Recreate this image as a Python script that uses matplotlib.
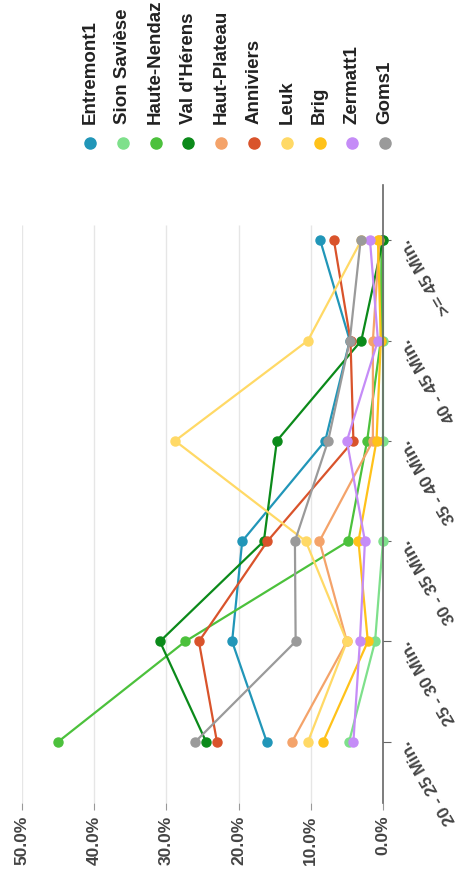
import numpy as np
import matplotlib
matplotlib.use('Agg')
import matplotlib.pyplot as plt
from matplotlib.lines import Line2D

plt.rcParams['font.family'] = ['Liberation Sans', 'DejaVu Sans']

# Datos (porcentaje por rango de tiempo)
categorias = ['20 - 25 Min.', '25 - 30 Min.', '30 - 35 Min.', '35 - 40 Min.', '40 - 45 Min.', '>= 45 Min.']
series = ['Entremont1', 'Sion Savièse', 'Haute-Nendaz', "Val d'Hérens", 'Haut-Plateau',
          'Anniviers', 'Leuk', 'Brig', 'Zermatt1', 'Goms1']

entremont1 = [16.1, 20.9, 19.5, 8.0, 4.6, 8.7]
sion_saviese = [4.7, 1.1, 0.0, 0.0, 0.0, 0.0]
haute_nendaz = [45.0, 27.4, 4.8, 2.2, 0.3, 0.2]
val_herens = [24.5, 30.9, 16.5, 14.7, 3.0, 0.0]
haut_plateau = [12.6, 5.0, 8.8, 1.4, 1.4, 0.5]
anniviers = [23.0, 25.5, 16.0, 4.1, 4.5, 6.8]
leuk = [10.4, 5.0, 10.7, 28.8, 10.4, 3.0]
brig = [8.3, 2.1, 3.4, 0.9, 0.3, 0.7]
zermatt1 = [4.1, 3.2, 2.5, 5.0, 0.7, 1.8]
goms1 = [26.0, 12.1, 12.2, 7.6, 4.6, 3.1]

valores = [entremont1, sion_saviese, haute_nendaz, val_herens, haut_plateau,
           anniviers, leuk, brig, zermatt1, goms1]
colores = ['#2196b8', '#7ee08b', '#4cc13c', '#0b8a1a', '#f4a36a',
           '#d9532b', '#ffd966', '#ffc21a', '#c58cf7', '#9a9a9a']
ticks_pct = [0, 10, 20, 30, 40, 50]

fig = plt.figure(figsize=(4.64, 8.76), dpi=100)
W, H = 464, 876
# El grafico esta girado 90 grados: valores en horizontal (0% a la derecha)
ax = fig.add_axes([22 / W, 73 / H, (383 - 22) / W, (803 - 185) / H])

y = np.arange(len(categorias))
for vals, col in zip(valores, colores):
    ax.plot(vals, y, color=col, linewidth=1.6, marker='o', markersize=6.5, clip_on=False)

ax.set_xlim(50, 0)
ax.set_ylim(-0.61, 5.55)

# Rejilla
ax.vlines(ticks_pct[1:], 0, 0.935, transform=ax.get_xaxis_transform(), color='#e6e6e6', linewidth=1, zorder=0)

for s in ['left', 'top', 'bottom']:
    ax.spines[s].set_visible(False)
ax.spines['right'].set_color('#666666')
ax.spines['right'].set_linewidth(1.2)

ax.set_xticks(ticks_pct)
ax.set_xticklabels(['%.1f%%' % t for t in ticks_pct], rotation=90, fontsize=12.5,
                   fontweight='bold', color='#444444')
ax.tick_params(axis='x', length=5, color='#999999', pad=4)

ax.yaxis.tick_right()
ax.set_yticks(y)
ax.set_yticklabels(categorias, fontsize=12.5, fontweight='bold', color='#444444',
                   rotation=120, rotation_mode='anchor', ha='right', va='center')
ax.tick_params(axis='y', length=6, color='#666666', pad=10)

# Leyenda manual (girada)
for i, (nombre, col) in enumerate(zip(series, colores)):
    xl = (90 + i * 32.8) / W
    fig.add_artist(Line2D([xl], [1 - 143 / H], marker='o', markersize=8, color=col,
                          linestyle='none', transform=fig.transFigure))
    fig.text(xl, 1 - 124 / H, nombre, rotation=90, ha='center', va='bottom',
             fontsize=13.5, fontweight='bold', color='#222222')

fig.savefig('out.png', dpi=100, facecolor='white')
